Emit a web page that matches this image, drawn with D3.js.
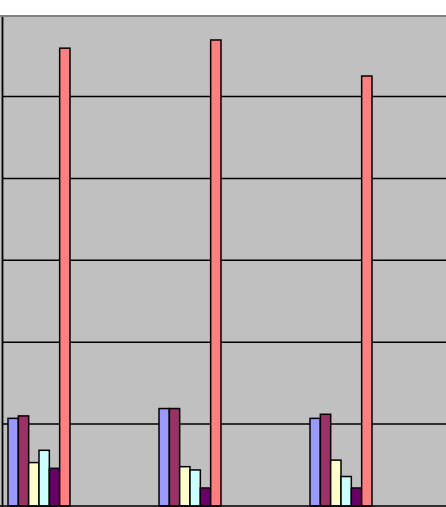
<!DOCTYPE html>
<html>
<head>
<meta charset="utf-8">
<script src="https://cdn.jsdelivr.net/npm/d3@7"></script>
<style>
  body { margin: 0; background: #fff; }
  svg { display: block; }
</style>
</head>
<body>
<svg width="446" height="507"></svg>
<script>
// data (units are gridline steps of 10)
let categories = ["Group 1", "Group 2", "Group 3"];
let seriesNames = ["S1", "S2", "S3", "S4", "S5", "S6"];
let s1 = [10.7, 11.9, 10.7];
let s2 = [11.0, 11.9, 11.2];
let s3 = [5.3, 4.8, 5.6];
let s4 = [6.8, 4.4, 3.6];
let s5 = [4.6, 2.2, 2.2];
let s6 = [55.9, 56.9, 52.5];
let yTicks = [0, 10, 20, 30, 40, 50, 60];

let seriesValues = [s1, s2, s3, s4, s5, s6];
let colors = ["#9999ff", "#993366", "#ffffcc", "#ccffff", "#660066", "#ff8080"];

let svg = d3.select("svg");
let width = 446, height = 507;

// plot area (chart is cropped on left, right and bottom)
let plotTop = 16, plotBottom = 506;

let y = d3.scaleLinear()
  .domain([0, 60])
  .range([plotBottom, 14.6]);

// category bands: step 151, cluster 62 wide
let gap = 89 / 151;
let x = d3.scaleBand()
  .domain(categories)
  .range([-36.5, -36.5 + 3 * 151])
  .paddingInner(gap)
  .paddingOuter(gap / 2);

let xInner = d3.scaleBand()
  .domain(seriesNames)
  .range([0, x.bandwidth()]);

// grey plot background
svg.append("rect")
  .attr("x", 0)
  .attr("y", plotTop)
  .attr("width", width)
  .attr("height", height - plotTop)
  .attr("fill", "#c0c0c0");

// horizontal gridlines
svg.append("g")
  .selectAll("line")
  .data(yTicks.filter(d => d > 0 && d < 60))
  .join("line")
  .attr("x1", 2)
  .attr("x2", width)
  .attr("y1", d => y(d))
  .attr("y2", d => y(d))
  .attr("stroke", "#000")
  .attr("stroke-width", 1.5);

// top border of plot area
svg.append("line")
  .attr("x1", 0).attr("x2", width)
  .attr("y1", plotTop).attr("y2", plotTop)
  .attr("stroke", "#808080")
  .attr("stroke-width", 2);

// bars
let pairs = [];
seriesValues.forEach((vals, si) => {
  vals.forEach((v, ci) => {
    pairs.push({ cat: categories[ci], series: seriesNames[si], value: v, color: colors[si] });
  });
});

svg.append("g")
  .selectAll("rect")
  .data(pairs)
  .join("rect")
  .attr("x", d => x(d.cat) + xInner(d.series))
  .attr("y", d => y(d.value))
  .attr("width", xInner.bandwidth())
  .attr("height", d => y(0) - y(d.value))
  .attr("fill", d => d.color)
  .attr("stroke", "#000")
  .attr("stroke-width", 1.5);

// value axis line on the left
svg.append("line")
  .attr("x1", 2.5).attr("x2", 2.5)
  .attr("y1", plotTop + 1).attr("y2", height)
  .attr("stroke", "#000")
  .attr("stroke-width", 1.8);

// category axis line along the bottom
svg.append("line")
  .attr("x1", 0).attr("x2", width)
  .attr("y1", plotBottom).attr("y2", plotBottom)
  .attr("stroke", "#000")
  .attr("stroke-width", 1.5);
</script>
</body>
</html>
